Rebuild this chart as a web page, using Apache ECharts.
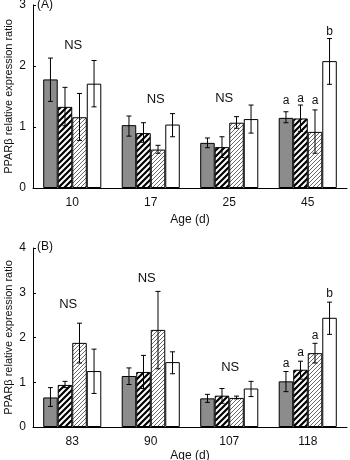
<!DOCTYPE html>
<html>
<head>
<meta charset="utf-8">
<script src="https://cdn.jsdelivr.net/npm/echarts@6/dist/echarts.min.js"></script>
<style>
  html, body { margin: 0; padding: 0; background: #fff; }
  #chart { width: 350px; height: 460px; }
</style>
</head>
<body>
<div id="chart"></div>
<script>
// ages (categories)
const agesA = ['10', '17', '25', '45'];
const agesB = ['83', '90', '107', '118'];

// panel A means for the four groups
const a1 = [1.78, 1.03, 0.74, 1.15];
const a2 = [1.33, 0.90, 0.67, 1.14];
const a3 = [1.16, 0.63, 1.07, 0.92];
const a4 = [1.71, 1.04, 1.13, 2.08];
// panel A error bar low / high
const a1Err = [[1.42, 2.13], [0.85, 1.18], [0.66, 0.82], [1.07, 1.25]];
const a2Err = [[1.02, 1.65], [0.75, 1.07], [0.50, 0.84], [0.93, 1.36]];
const a3Err = [[0.78, 1.55], [0.57, 0.70], [0.98, 1.17], [0.57, 1.28]];
const a4Err = [[1.33, 2.09], [0.84, 1.22], [0.90, 1.36], [1.70, 2.45]];

// panel B means
const b1 = [0.66, 1.14, 0.64, 1.02];
const b2 = [0.94, 1.23, 0.70, 1.28];
const b3 = [1.88, 2.17, 0.65, 1.65];
const b4 = [1.25, 1.45, 0.86, 2.44];
const b1Err = [[0.46, 0.88], [0.95, 1.32], [0.55, 0.73], [0.79, 1.24]];
const b2Err = [[0.88, 1.02], [0.86, 1.60], [0.53, 0.86], [1.07, 1.47]];
const b3Err = [[1.43, 2.32], [1.30, 3.03], [0.63, 0.69], [1.43, 1.87]];
const b4Err = [[0.75, 1.74], [1.19, 1.68], [0.68, 1.02], [2.07, 2.79]];

// annotations: [age index, bar slot (-1 = whole age), height, text]
const notesA = [
  [0, -1, 2.34, 'NS'], [1, -1, 1.45, 'NS'], [2, -1, 1.47, 'NS'],
  [3, 0, 1.43, 'a'], [3, 1, 1.46, 'a'], [3, 2, 1.43, 'a'], [3, 3, 2.57, 'b']
];
const notesB = [
  [0, -1, 2.73, 'NS'], [1, -1, 3.33, 'NS'], [2, -1, 1.34, 'NS'],
  [3, 0, 1.41, 'a'], [3, 1, 1.65, 'a'], [3, 2, 2.03, 'a'], [3, 3, 2.97, 'b']
];
// small horizontal nudges of the NS labels, px
const nsShiftA = [1, 5, -5];
const nsShiftB = [-4, -4, 1];

const GAP = 0.26;
const FONT = 'Liberation Sans, Arial, sans-serif';

function stripes(size, width, color) {
  const c = document.createElement('canvas');
  c.width = size;
  c.height = size;
  const ctx = c.getContext('2d');
  ctx.fillStyle = '#fff';
  ctx.fillRect(0, 0, size, size);
  ctx.strokeStyle = color;
  ctx.lineWidth = width;
  ctx.beginPath();
  ctx.moveTo(-2, size + 2); ctx.lineTo(size + 2, -2);
  ctx.moveTo(-2, 2); ctx.lineTo(2, -2);
  ctx.moveTo(size - 2, size + 2); ctx.lineTo(size + 2, size - 2);
  ctx.stroke();
  return { image: c, repeat: 'repeat' };
}

const fills = ['#8c8c8c', stripes(6, 2.2, '#000'), stripes(4, 1, '#6a6a6a'), '#fff'];

function errRows(errs) {
  const rows = [];
  errs.forEach((e, s) => e.forEach((lh, c) => rows.push([c, s, lh[0], lh[1]])));
  return rows;
}

function slotX(api, cat, slot) {
  const band = api.size([1, 0])[0];
  const bw = band * (1 - GAP) / 4;
  return api.coord([cat, 0])[0] + (slot - 1.5) * bw;
}

function renderErr(params, api) {
  const cat = api.value(0);
  const x = slotX(api, cat, api.value(1));
  const lo = api.coord([cat, api.value(2)])[1];
  const hi = api.coord([cat, api.value(3)])[1];
  const st = { stroke: '#000', lineWidth: 1 };
  const h = 2.5;
  return {
    type: 'group',
    children: [
      { type: 'line', shape: { x1: x, y1: hi, x2: x, y2: lo }, style: st },
      { type: 'line', shape: { x1: x - h, y1: hi, x2: x + h, y2: hi }, style: st },
      { type: 'line', shape: { x1: x - h, y1: lo, x2: x + h, y2: lo }, style: st },
    ],
  };
}

function makeNoteRender(shifts) {
  return function (params, api) {
    const cat = api.value(0);
    const slot = api.value(1);
    let x;
    if (slot < 0) {
      x = api.coord([cat, 0])[0] + shifts[cat];
    } else {
      x = slotX(api, cat, slot);
    }
    const y = api.coord([cat, api.value(2)])[1];
    return {
      type: 'text',
      x,
      y,
      style: {
        text: api.value(3),
        fill: '#111',
        fontSize: slot < 0 ? 13 : 12,
        fontFamily: FONT,
        align: 'center',
        verticalAlign: 'middle',
      },
    };
  };
}

function barSeries(values, i, axis) {
  return {
    type: 'bar',
    xAxisIndex: axis,
    yAxisIndex: axis,
    data: values,
    barGap: '0%',
    barCategoryGap: (GAP * 100) + '%',
    itemStyle: { color: fills[i], borderColor: '#000', borderWidth: 1 },
    silent: true,
  };
}

function xAxisCfg(grid, cats, gap) {
  return {
    type: 'category',
    gridIndex: grid,
    data: cats,
    name: 'Age (d)',
    nameLocation: 'middle',
    nameGap: gap,
    nameMoveOverlap: false,
    nameTextStyle: { fontSize: 12, color: '#111', fontFamily: FONT },
    axisLine: { lineStyle: { color: '#000', width: 1 } },
    axisTick: { inside: true, length: 4, interval: 0, lineStyle: { color: '#000' } },
    axisLabel: { fontSize: 12, color: '#111', margin: 9, fontFamily: FONT },
  };
}

function yAxisCfg(grid, max) {
  return {
    type: 'value',
    gridIndex: grid,
    min: 0,
    max,
    interval: 1,
    name: 'PPARβ relative expression ratio',
    nameLocation: 'middle',
    nameGap: 19,
    nameMoveOverlap: false,
    nameTextStyle: { fontSize: 11, color: '#111', fontFamily: FONT },
    splitLine: { show: false },
    axisLine: { show: true, lineStyle: { color: '#000', width: 1 } },
    axisTick: { show: true, inside: true, length: 3, lineStyle: { color: '#000' } },
    axisLabel: { fontSize: 12, color: '#111', margin: 7, fontFamily: FONT },
  };
}

const chart = echarts.init(document.getElementById('chart'), null, { renderer: 'canvas' });

chart.setOption({
  animation: false,
  backgroundColor: '#fff',
  grid: [
    { left: 33, right: 3, top: 5, height: 183, outerBoundsMode: 'none' },
    { left: 33, right: 3, top: 248, height: 179, outerBoundsMode: 'none' },
  ],
  graphic: [
    { type: 'text', left: 37, top: -1, style: { text: '(A)', fontSize: 12, fill: '#111', fontFamily: FONT } },
    { type: 'text', left: 37, top: 241, style: { text: '(B)', fontSize: 12, fill: '#111', fontFamily: FONT } },
  ],
  xAxis: [xAxisCfg(0, agesA, 26), xAxisCfg(1, agesB, 23)],
  yAxis: [yAxisCfg(0, 3), yAxisCfg(1, 4)],
  series: [
    barSeries(a1, 0, 0), barSeries(a2, 1, 0), barSeries(a3, 2, 0), barSeries(a4, 3, 0),
    barSeries(b1, 0, 1), barSeries(b2, 1, 1), barSeries(b3, 2, 1), barSeries(b4, 3, 1),
    {
      type: 'custom', xAxisIndex: 0, yAxisIndex: 0, z: 5, silent: true,
      renderItem: renderErr, encode: { x: 0, y: [2, 3] },
      data: errRows([a1Err, a2Err, a3Err, a4Err]),
    },
    {
      type: 'custom', xAxisIndex: 1, yAxisIndex: 1, z: 5, silent: true,
      renderItem: renderErr, encode: { x: 0, y: [2, 3] },
      data: errRows([b1Err, b2Err, b3Err, b4Err]),
    },
    {
      type: 'custom', xAxisIndex: 0, yAxisIndex: 0, z: 6, silent: true,
      renderItem: makeNoteRender(nsShiftA), encode: { x: 0, y: 2 },
      data: notesA,
    },
    {
      type: 'custom', xAxisIndex: 1, yAxisIndex: 1, z: 6, silent: true,
      renderItem: makeNoteRender(nsShiftB), encode: { x: 0, y: 2 },
      data: notesB,
    },
  ],
});
</script>
</body>
</html>
